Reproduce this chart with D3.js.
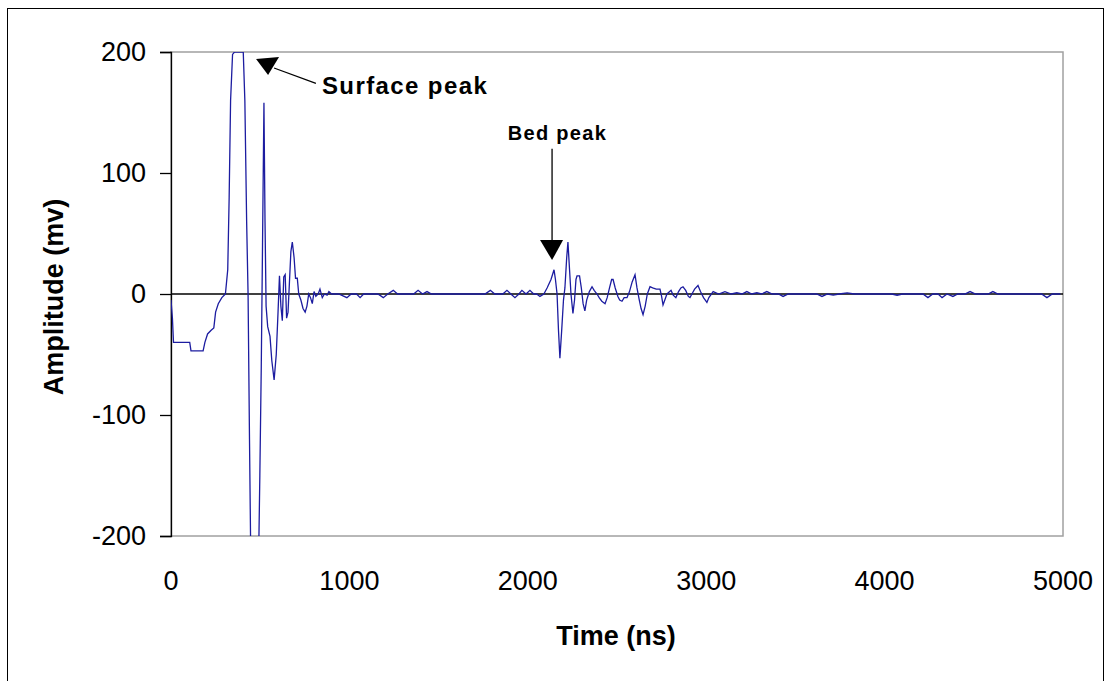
<!DOCTYPE html>
<html>
<head>
<meta charset="utf-8">
<script src="https://cdn.jsdelivr.net/npm/d3@7"></script>
<style>
  body { margin: 0; background: #fff; }
  svg { display: block; font-family: Arial, "Liberation Sans", sans-serif; }
</style>
</head>
<body>
<svg id="chart" width="1109" height="681"></svg>
<script>
// trace: time (ns) and amplitude (mv)
const times = [
  0, 8, 14, 60, 105, 112, 180, 190, 205, 225, 240, 250, 265, 285, 305, 318, 326, 334, 345, 356,
  405, 414, 424, 432, 440, 448, 490, 498, 506, 513, 521, 527, 533, 542, 555, 565, 578, 590, 600, 608,
  616, 624, 632, 640, 648, 656, 664, 672, 680, 690, 698, 708, 716, 728, 740, 752, 762, 772, 782, 792,
  802, 812, 825, 835, 848, 860, 875, 885, 900, 940, 986, 1010, 1040, 1060, 1080, 1160, 1190, 1215, 1246, 1270,
  1360, 1385, 1410, 1435, 1460, 1760, 1790, 1815, 1860, 1883, 1905, 1928, 1950, 1967, 1990, 2012, 2033, 2050, 2068, 2090,
  2108, 2130, 2147, 2155, 2164, 2172, 2180, 2190, 2200, 2208, 2218, 2225, 2234, 2242, 2253, 2262, 2270, 2276, 2290, 2300,
  2310, 2320, 2330, 2345, 2360, 2372, 2388, 2400, 2415, 2433, 2445, 2458, 2470, 2478, 2490, 2505, 2515, 2528, 2540, 2556,
  2570, 2585, 2601, 2612, 2625, 2635, 2646, 2658, 2670, 2685, 2700, 2720, 2741, 2750, 2758, 2768, 2780, 2803, 2815, 2830,
  2845, 2858, 2870, 2885, 2900, 2909, 2920, 2935, 2954, 2968, 2985, 3004, 3015, 3039, 3070, 3105, 3140, 3172, 3200, 3228,
  3255, 3284, 3310, 3340, 3370, 3405, 3431, 3460, 3620, 3649, 3680, 3712, 3745, 3790, 3830, 4040, 4070, 4100, 4215, 4243,
  4270, 4300, 4322, 4350, 4383, 4410, 4450, 4479, 4510, 4580, 4607, 4635, 4880, 4910, 4940, 4985
];
const amps = [
  -5, -20, -40, -40, -40, -47, -47, -40, -33, -30, -28, -15, -8, -3, 0, 20, 80, 160, 198, 200,
  200, 160, 60, 0, -120, -230, -230, -150, -60, 40, 158, 60, -10, -27, -35, -55, -71, -50, -15, 15,
  -10, -22, 14, 16, -20, -15, 10, 35, 43, 30, 13, 13, 0, -5, -12, -15, -10, 0, -3, -8,
  2, -2, 0, 4, -3, 0, -1, 2, 0, 0, -3, 0, 0, -3, 0, 0, -3, 0, 3, 0,
  0, 3, 0, 2, 0, 0, 3, 0, 0, 3, 0, -3, 0, 3, 0, 3, 0, 0, -2, 0,
  5, 12, 20, 12, 0, -30, -53, -30, -5, 5, 30, 43, 20, 0, -16, -5, 12, 15, 15, 5,
  -8, -14, -5, 2, 6, 3, 0, -3, -6, -8, -3, 5, 12, 12, 5, -2, -5, -6, -3, -3,
  2, 10, 16, 5, -5, -12, -17, -10, 0, 6, 5, 4, 4, -2, -9, -5, 0, 3, -1, -3,
  2, 5, 6, 3, -2, -3, 0, 4, 7, 2, -3, -7, -3, 2, 0, 2, 0, 1, 0, 2,
  0, 1, 0, 2, 0, 0, -2, 0, 0, -2, 0, -1, 0, 1, 0, 0, -1, 0, 0, -3,
  0, 0, -3, 0, -2, 0, 0, 2, 0, 0, 2, 0, 0, -3, 0, 0
];
const xTicks = [0, 1000, 2000, 3000, 4000, 5000];
const yTicks = [200, 100, 0, -100, -200];

const svg = d3.select("#chart");
const margin = { left: 171, top: 52, right: 1063, bottom: 536 };

const x = d3.scaleLinear().domain([0, 5000]).range([margin.left, margin.right]);
const y = d3.scaleLinear().domain([-200, 200]).range([margin.bottom, margin.top]);

const data = times.map((t, i) => ({ t: t, a: amps[i] }));

// outer frame
svg.append("rect")
  .attr("x", 7.5).attr("y", 8.5)
  .attr("width", 1096).attr("height", 700)
  .attr("fill", "none").attr("stroke", "#000").attr("stroke-width", 1);

// plot area border (grey)
svg.append("rect")
  .attr("x", margin.left).attr("y", margin.top)
  .attr("width", margin.right - margin.left).attr("height", margin.bottom - margin.top)
  .attr("fill", "none").attr("stroke", "#a0a0a0").attr("stroke-width", 1.5);

svg.append("clipPath").attr("id", "clip")
  .append("rect")
  .attr("x", margin.left).attr("y", margin.top)
  .attr("width", margin.right - margin.left).attr("height", margin.bottom - margin.top);

// y axis, plain hyphen for negatives like the original
const yAxis = d3.axisLeft(y).tickValues(yTicks).tickSize(11).tickPadding(14)
  .tickFormat(d => String(d));
const yG = svg.append("g")
  .attr("transform", `translate(${margin.left},0)`)
  .call(yAxis);
yG.select(".domain").attr("stroke", "#000").attr("stroke-width", 1.3);
yG.selectAll(".tick line").attr("stroke", "#000").attr("stroke-width", 1.3);
yG.selectAll("text")
  .attr("font-size", 27).attr("fill", "#000")
  .attr("font-family", "Arial, 'Liberation Sans', sans-serif");

// x axis line at zero
svg.append("line")
  .attr("x1", margin.left).attr("x2", margin.right)
  .attr("y1", y(0)).attr("y2", y(0))
  .attr("stroke", "#000").attr("stroke-width", 1.3);

// x tick labels at bottom
svg.append("g")
  .selectAll("text")
  .data(xTicks)
  .enter()
  .append("text")
  .attr("x", d => x(d))
  .attr("y", 590)
  .attr("text-anchor", "middle")
  .attr("font-size", 27)
  .text(d => String(d));

// trace
svg.append("path")
  .datum(data)
  .attr("clip-path", "url(#clip)")
  .attr("fill", "none")
  .attr("stroke", "#1c1ca0")
  .attr("stroke-width", 1.3)
  .attr("d", d3.line().x(d => x(d.t)).y(d => y(d.a)));

// axis titles
svg.append("text")
  .attr("x", 616).attr("y", 645)
  .attr("text-anchor", "middle")
  .attr("font-size", 27).attr("font-weight", "bold")
  .text("Time (ns)");

svg.append("text")
  .attr("transform", `translate(63,297) rotate(-90)`)
  .attr("text-anchor", "middle")
  .attr("font-size", 27).attr("font-weight", "bold")
  .text("Amplitude (mv)");

// annotations
const surfaceTip = { t: 544, a: 181 };
const surfaceLabel = { t: 846, a: 165 };
const bedTip = { t: 2136, a: 28 };
const bedLabel = { t: 1888, a: 126 };

svg.append("line")
  .attr("x1", x(surfaceTip.t) + 6).attr("y1", y(surfaceTip.a) - 7)
  .attr("x2", x(surfaceLabel.t) - 6).attr("y2", y(surfaceLabel.a) - 11)
  .attr("stroke", "#000").attr("stroke-width", 1.3);
svg.append("path")
  .attr("d", () => {
    const tx = x(surfaceTip.t), ty = y(surfaceTip.a);
    return `M${tx},${ty}L${tx - 12},${ty - 16}L${tx + 11},${ty - 18}Z`;
  })
  .attr("fill", "#000");
svg.append("text")
  .attr("x", x(surfaceLabel.t)).attr("y", y(surfaceLabel.a))
  .attr("font-size", 24).attr("font-weight", "bold")
  .attr("letter-spacing", 1.4)
  .text("Surface peak");

svg.append("line")
  .attr("x1", x(bedTip.t)).attr("y1", y(120))
  .attr("x2", x(bedTip.t)).attr("y2", y(bedTip.a) - 10)
  .attr("stroke", "#000").attr("stroke-width", 1.3);
svg.append("path")
  .attr("d", () => {
    const tx = x(bedTip.t), ty = y(bedTip.a);
    return `M${tx},${ty}L${tx - 12},${ty - 20}L${tx + 11},${ty - 20}Z`;
  })
  .attr("fill", "#000");
svg.append("text")
  .attr("x", x(bedLabel.t)).attr("y", y(bedLabel.a) - 2)
  .attr("font-size", 20).attr("font-weight", "bold")
  .attr("letter-spacing", 1.3)
  .text("Bed peak");
</script>
</body>
</html>
